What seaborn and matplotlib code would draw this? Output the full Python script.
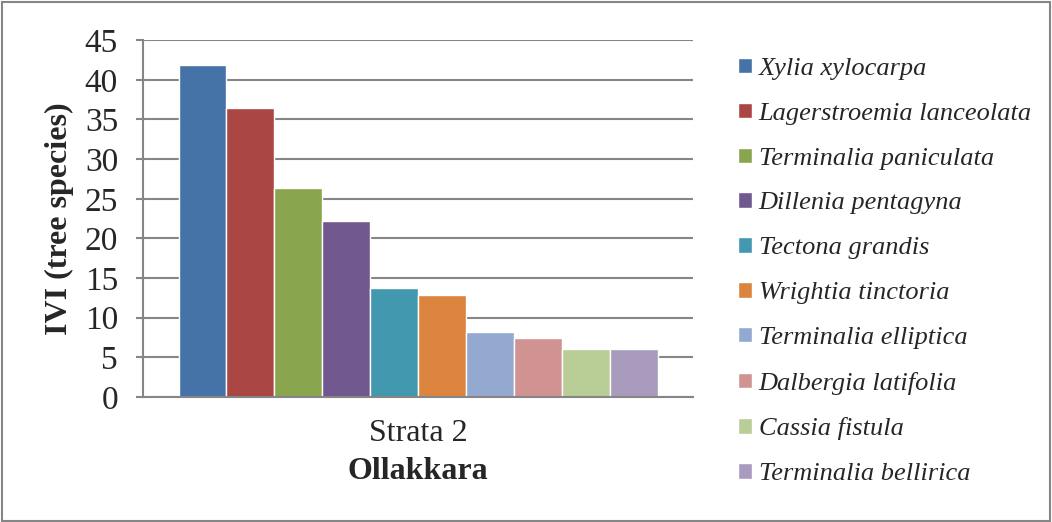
import pandas as pd
import matplotlib.pyplot as plt
import seaborn as sns

# Data
species = ['Xylia xylocarpa', 'Lagerstroemia lanceolata', 'Terminalia paniculata',
           'Dillenia pentagyna', 'Tectona grandis', 'Wrightia tinctoria',
           'Terminalia elliptica', 'Dalbergia latifolia', 'Cassia fistula',
           'Terminalia bellirica']
ivi = [41.9, 36.4, 26.3, 22.2, 13.8, 12.9, 8.2, 7.4, 6.0, 6.0]
strata = ['Strata 2'] * len(species)
colors = ['#4572A7', '#AA4643', '#89A54E', '#71588F', '#4198AF',
          '#DB843D', '#93A9CF', '#D19392', '#B9CD96', '#A99BBD']
yticks = [0, 5, 10, 15, 20, 25, 30, 35, 40, 45]

df = pd.DataFrame({'Strata': strata, 'Species': species, 'IVI': ivi})

sns.set_style('white')
plt.rcParams['font.family'] = ['Liberation Serif', 'DejaVu Serif']

fig = plt.figure(figsize=(10.52, 5.22), dpi=100)
ax = fig.add_axes([0.136, 0.2395, 0.523, 0.6835])

sns.barplot(data=df, x='Strata', y='IVI', hue='Species', palette=colors,
            width=0.871, saturation=1, ax=ax, legend=True)

ax.set_ylim(0, 45)
ax.set_yticks(yticks)
ax.yaxis.grid(True, color='#868686', linewidth=1.5)
ax.set_axisbelow(True)
for side in ['top', 'right']:
    ax.spines[side].set_visible(False)
for side in ['left', 'bottom']:
    ax.spines[side].set_color('#868686')
    ax.spines[side].set_linewidth(1.5)
ax.tick_params(axis='y', which='major', length=5, width=1.5, color='#868686',
               labelsize=24, pad=13, left=True)
ax.tick_params(axis='x', length=0, labelsize=23, pad=16)
ax.set_ylabel('IVI (tree species)', fontsize=23, fontweight='bold', labelpad=8)
ax.set_xlabel('Ollakkara', fontsize=23, fontweight='bold', labelpad=6)

ax.legend(loc='upper left', bbox_to_anchor=(1.062, 0.98), frameon=False,
          prop={'style': 'italic', 'size': 19}, handlelength=0.53,
          handleheight=0.53, handletextpad=0.25, labelspacing=0.86,
          borderaxespad=0)

# gray border around the whole figure
fig.patches.append(plt.Rectangle((0.002, 0.002), 0.996, 0.994, transform=fig.transFigure,
                                 fill=False, edgecolor='#868686', linewidth=1.5))

plt.savefig('out.png', dpi=100)
plt.close()
